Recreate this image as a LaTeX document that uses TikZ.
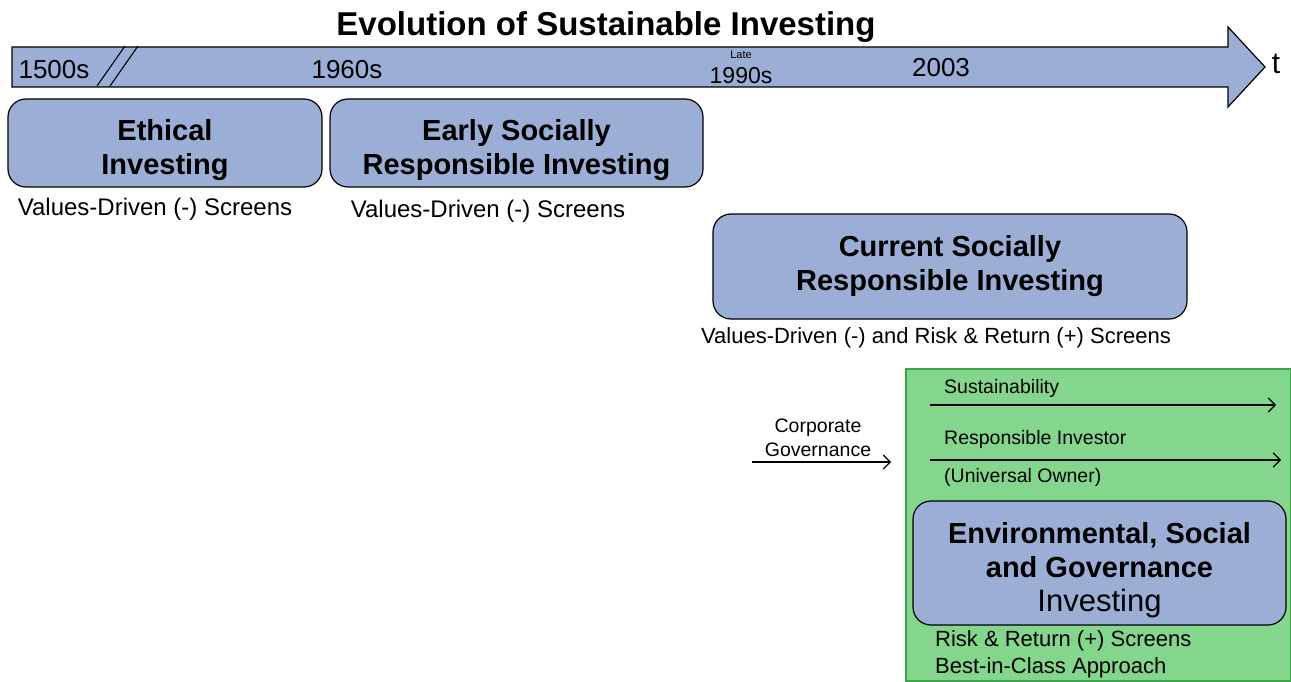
\documentclass[tikz,border=0pt]{standalone}
\usepackage{fontspec}
\setmainfont{Liberation Sans}
\usepackage{xcolor}
\usetikzlibrary{positioning, arrows.meta}
\definecolor{timeblue}{RGB}{155,175,214}
\definecolor{esggreen}{RGB}{131,214,139}
\definecolor{esgedge}{RGB}{60,165,75}
\newcommand{\toppad}{\rule{0pt}{35pt}}
\tikzset{
    era/.style={rectangle, draw=black, line width=1.2pt, fill=timeblue, rounded corners=18pt, align=center, inner sep=0pt, font=\fontsize{29}{34}\selectfont\bfseries},
    year/.style={font=\fontsize{26}{30}\selectfont, inner sep=0pt},
    screens/.style={font=\fontsize{22}{27}\selectfont, inner sep=0pt},
    trend/.style={font=\fontsize{19.5}{24}\selectfont, inner sep=0pt, align=center},
    arrow/.style={-{Straight Barb[length=7pt,width=14pt]}, line width=1.1pt}
}

\begin{document}
\begin{tikzpicture}[x=1pt, y=-1pt]
    \useasboundingbox (0,0) rectangle (1291,682);

    % Title
    \node[font=\fontsize{33}{38}\selectfont\bfseries, inner sep=0pt] (title) at (606,27) {Evolution of Sustainable Investing};

    % Time line
    \draw[line width=1.2pt, fill=timeblue] (12,47) -- (1228,47) -- (1228,27) -- (1265,67) -- (1228,107) -- (1228,87) -- (12,87) -- cycle;
    \draw[line width=1.1pt] (97,86) -- (125,46) (110,86) -- (138,46);
    \node[font=\fontsize{30}{34}\selectfont, inner sep=0pt] (taxis) at (1276,64) {t};

    \node[year] (y1500) at (54,70) {1500s};
    \node[year] (y1960) at (347,70) {1960s};
    \node[font=\fontsize{11}{13}\selectfont, inner sep=0pt] (late) at (741,55) {Late};
    \node[year, font=\fontsize{23}{27}\selectfont] (y1990) at (741,76) {1990s};
    \node[year] (y2003) at (941,68) {2003};

    % Eras
    \node[era, minimum width=314pt, minimum height=88pt] (ethical) at (165,143) {\toppad Ethical\\Investing};
    \node[era, minimum width=373pt, minimum height=88pt] (earlysri) at (516.5,143) {\toppad Early Socially\\Responsible Investing};
    \node[era, minimum width=474pt, minimum height=105pt] (currentsri) at (950,266.5) {Current Socially\\Responsible Investing};

    \node[screens, font=\fontsize{24}{28}\selectfont] (ethicalscr) at (155,209) {Values-Driven (-) Screens};
    \node[screens, font=\fontsize{24}{28}\selectfont] (earlyscr) at (488,211) {Values-Driven (-) Screens};
    \node[screens] (currentscr) at (936,338) {Values-Driven (-) and Risk \& Return (+) Screens};

    % ESG area
    \node[rectangle, draw=esgedge, line width=1.2pt, fill=esggreen, minimum width=385pt, minimum height=312pt, inner sep=0pt] (esgarea) at (1098.5,525) {};

    \node[trend, anchor=west] (sust) at (944,388) {Sustainability};
    \node[trend, anchor=west] (respinv) at (944,439) {Responsible Investor};
    \node[trend, anchor=west] (univ) at (944,477) {(Universal Owner)};
    \coordinate (sustail) at (930,405);
    \coordinate (sushead) at (1276,405);
    \coordinate (resptail) at (930,460);
    \coordinate (resphead) at (1281,460);
    \draw[arrow] (sustail) -- (sushead);
    \draw[arrow] (resptail) -- (resphead);

    \node[trend] (corpgov) at (818,438) {Corporate\\Governance};
    \coordinate (cgtail) at (752,462);
    \coordinate (cghead) at (891,462);
    \draw[arrow] (cgtail) -- (cghead);

    \node[era, minimum width=373pt, minimum height=124pt] (esg) at (1099.5,563) {\toppad Environmental, Social\\and Governance\\\mdseries\fontsize{31}{35}\selectfont Investing};

    \node[screens, anchor=west] (esgscr) at (935,641) {Risk \& Return (+) Screens};
    \node[screens, anchor=west] (bestclass) at (935,668) {Best-in-Class Approach};
\end{tikzpicture}
\end{document}
